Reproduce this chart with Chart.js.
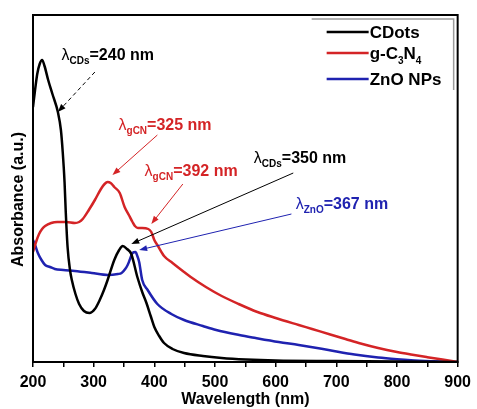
<!DOCTYPE html>
<html>
<head>
<meta charset="utf-8">
<script src="https://cdn.jsdelivr.net/npm/chart.js@4.4.1/dist/chart.umd.min.js"></script>
<style>
html, body { margin: 0; padding: 0; background: #fff; }
#contenedor { width: 477px; height: 409px; }
</style>
</head>
<body>
<div id="contenedor"><canvas id="grafico-absorbancia"></canvas></div>
<script>
const nmCDots = [200, 203, 207, 211, 215, 219, 225, 232, 241, 246, 249, 252, 254, 257, 261, 264, 270, 276, 284, 293, 302, 310, 317, 323, 334, 342, 348, 355, 362, 372, 380, 387, 394, 400, 408, 416, 430, 449, 480, 511, 551, 600, 700, 800, 900];
const absCDots = [255, 270, 288, 298, 302, 296, 282, 268, 250, 232, 210, 180, 150, 115, 92, 82, 68, 58, 51, 49, 53, 62, 72, 82, 102, 112, 116, 113, 108, 85, 70, 59, 46, 35, 26, 19, 13, 9, 6, 4, 2.5, 1.5, 1, 0.5, 0];

const nmGCN = [200, 205, 210, 215, 220, 230, 240, 255, 269, 276, 282, 292, 302, 312, 318, 323, 328, 334, 343, 351, 358, 364, 368, 373, 380, 390, 395, 400, 405, 416, 430, 449, 460, 485, 511, 539, 570, 600, 638, 660, 690, 715, 740, 769, 800, 823, 850, 875, 900];
const absGCN = [110, 120, 128, 133, 136, 139, 140, 140, 139, 140, 143, 152, 162, 173, 178, 180, 179, 175, 169, 155, 147, 140, 136, 134, 134, 133, 130, 122, 117, 106, 99, 90, 85, 75, 66, 58, 50, 44, 37, 33, 27.5, 23, 18.5, 14, 10, 7.5, 4.8, 2.4, 0];

const nmZnO = [200, 204, 208, 214, 220, 228, 236, 250, 269, 297, 323, 340, 346, 352, 356, 360, 364, 369, 372, 375, 380, 389, 405, 428, 449, 480, 502, 540, 567, 605, 638, 687, 730, 769, 800, 823, 860, 900];
const absZnO = [122, 116, 109, 102, 97, 95, 93, 92, 91, 89, 87, 88, 89, 93, 97, 103, 109, 110, 106, 100, 82, 72, 58, 48, 42, 36, 32, 27, 24, 20, 17, 12, 7.5, 4.5, 2.8, 1.8, 0.8, 0];

const etiquetasSeries = ['CDots', 'g-C3N4', 'ZnO NPs'];
const coloresSeries = ['#000000', '#d42426', '#1f22b0'];
const ticksX = [200, 300, 400, 500, 600, 700, 800, 900];

const FUENTE = '"Liberation Sans", Arial, sans-serif';

// Anotaciones: texto en coordenadas de datos, flecha desde -> hasta
const anotaciones = [
    { partes: [['λ', 'n'], ['CDs', 's'], ['=240 nm', 'b']], color: '#000', texto: [247, 302], desde: [302, 290], hasta: [241, 250], guion: [4, 3] },
    { partes: [['λ', 'n'], ['gCN', 's'], ['=325 nm', 'b']], color: '#d42426', texto: [341, 232], desde: [405, 227], hasta: [331, 187], guion: [] },
    { partes: [['λ', 'n'], ['gCN', 's'], ['=392 nm', 'b']], color: '#d42426', texto: [384, 186], desde: [447, 178], hasta: [395, 138], guion: [] },
    { partes: [['λ', 'n'], ['CDs', 's'], ['=350 nm', 'b']], color: '#000', texto: [564, 199], desde: [629, 189], hasta: [362, 118], guion: [] },
    { partes: [['λ', 'n'], ['ZnO', 's'], ['=367 nm', 'b']], color: '#1f22b0', texto: [633, 153], desde: [626, 148], hasta: [375, 112], guion: [] }
];

const puntos = (xs, ys) => xs.map((x, i) => ({ x: x, y: ys[i] }));

// Dibuja texto con subíndices
function textoCompuesto(ctx, x, y, partes, color) {
    ctx.fillStyle = color;
    ctx.textBaseline = 'alphabetic';
    ctx.textAlign = 'left';
    let cx = x;
    partes.forEach(([t, tipo]) => {
        let dy = 0;
        if (tipo === 'n') ctx.font = `16px ${FUENTE}`;
        else if (tipo === 's') { ctx.font = `bold 10px ${FUENTE}`; dy = 4; }
        else if (tipo === 'ls') { ctx.font = `bold 10px ${FUENTE}`; dy = 5; }
        else if (tipo === 'l') ctx.font = `bold 17px ${FUENTE}`;
        else ctx.font = `bold 16px ${FUENTE}`;
        ctx.fillText(t, cx, y + dy);
        cx += ctx.measureText(t).width;
    });
}

function flecha(ctx, x1, y1, x2, y2, color, guion) {
    ctx.save();
    ctx.strokeStyle = color;
    ctx.fillStyle = color;
    ctx.lineWidth = 1;
    ctx.setLineDash(guion);
    const ang = Math.atan2(y2 - y1, x2 - x1);
    ctx.beginPath();
    ctx.moveTo(x1, y1);
    ctx.lineTo(x2 - 6 * Math.cos(ang), y2 - 6 * Math.sin(ang));
    ctx.stroke();
    ctx.setLineDash([]);
    ctx.beginPath();
    ctx.moveTo(x2, y2);
    ctx.lineTo(x2 - 8 * Math.cos(ang) + 3 * Math.sin(ang), y2 - 8 * Math.sin(ang) - 3 * Math.cos(ang));
    ctx.lineTo(x2 - 8 * Math.cos(ang) - 3 * Math.sin(ang), y2 - 8 * Math.sin(ang) + 3 * Math.cos(ang));
    ctx.closePath();
    ctx.fill();
    ctx.restore();
}

const pluginDecoracion = {
    id: 'decoracion',
    afterDraw(chart) {
        const ctx = chart.ctx;
        const { left, top, right, bottom } = chart.chartArea;
        const sx = chart.scales.x;
        const sy = chart.scales.y;

        // Marco
        ctx.save();
        ctx.strokeStyle = '#000';
        ctx.lineWidth = 2;
        ctx.strokeRect(left, top, right - left, bottom - top);

        // Título eje Y
        ctx.save();
        ctx.translate(19, (top + bottom) / 2 + 11);
        ctx.rotate(-Math.PI / 2);
        ctx.font = `bold 16px ${FUENTE}`;
        ctx.fillStyle = '#000';
        ctx.textAlign = 'center';
        ctx.textBaseline = 'middle';
        ctx.fillText('Absorbance (a.u.)', 0, 0);
        ctx.restore();

        // Anotaciones
        anotaciones.forEach(a => {
            flecha(ctx, sx.getPixelForValue(a.desde[0]), sy.getPixelForValue(a.desde[1]),
                sx.getPixelForValue(a.hasta[0]), sy.getPixelForValue(a.hasta[1]), a.color, a.guion);
            textoCompuesto(ctx, sx.getPixelForValue(a.texto[0]), sy.getPixelForValue(a.texto[1]), a.partes, a.color);
        });

        // Leyenda
        ctx.strokeStyle = '#9a9a9a';
        ctx.lineWidth = 1.5;
        ctx.beginPath();
        ctx.moveTo(right - 146, top + 4);
        ctx.lineTo(right - 4, top + 4);
        ctx.lineTo(right - 4, top + 75);
        ctx.stroke();

        const filas = [top + 17, top + 38, top + 64];
        const textosLeyenda = [
            [['CDots', 'l']],
            [['g-C', 'l'], ['3', 'ls'], ['N', 'l'], ['4', 'ls']],
            [['ZnO NPs', 'l']]
        ];
        chart.data.datasets.forEach((d, i) => {
            ctx.strokeStyle = d.borderColor;
            ctx.lineWidth = 2.5;
            ctx.beginPath();
            ctx.moveTo(right - 131, filas[i]);
            ctx.lineTo(right - 89, filas[i]);
            ctx.stroke();
            textoCompuesto(ctx, right - 88, filas[i] + 6, textosLeyenda[i], '#000');
        });
        ctx.restore();
    }
};

const grafico = new Chart(document.getElementById('grafico-absorbancia').getContext('2d'), {
    type: 'line',
    data: {
        datasets: [
            { label: etiquetasSeries[0], data: puntos(nmCDots, absCDots), borderColor: coloresSeries[0] },
            { label: etiquetasSeries[1], data: puntos(nmGCN, absGCN), borderColor: coloresSeries[1] },
            { label: etiquetasSeries[2], data: puntos(nmZnO, absZnO), borderColor: coloresSeries[2] }
        ].map(d => Object.assign(d, { borderWidth: 2.5, pointRadius: 0, fill: false, cubicInterpolationMode: 'monotone' }))
    },
    options: {
        responsive: true,
        maintainAspectRatio: false,
        animation: false,
        devicePixelRatio: 1,
        layout: { padding: { top: 15, right: 14, left: 0, bottom: 0 } },
        plugins: {
            legend: { display: false },
            tooltip: { enabled: false }
        },
        scales: {
            x: {
                type: 'linear',
                min: 200,
                max: 900,
                afterFit: s => { s.height = 47; },
                ticks: {
                    stepSize: 50,
                    autoSkip: false,
                    maxRotation: 0,
                    padding: 6,
                    color: '#000',
                    font: { family: FUENTE, size: 16, weight: 'bold' },
                    callback: v => ticksX.includes(v) ? v : ''
                },
                grid: { drawOnChartArea: false, drawTicks: true, tickLength: 5, color: '#000', lineWidth: 1.5 },
                border: { display: true, color: '#000', width: 2 },
                title: {
                    display: true,
                    text: 'Wavelength (nm)',
                    color: '#000',
                    font: { family: FUENTE, size: 16, weight: 'bold' },
                    padding: { top: 0, bottom: 0 }
                }
            },
            y: {
                min: 0,
                max: 347,
                afterFit: s => { s.width = 33; },
                ticks: { display: false },
                grid: { display: false },
                border: { display: true, color: '#000', width: 2 }
            }
        }
    },
    plugins: [pluginDecoracion]
});
</script>
</body>
</html>
